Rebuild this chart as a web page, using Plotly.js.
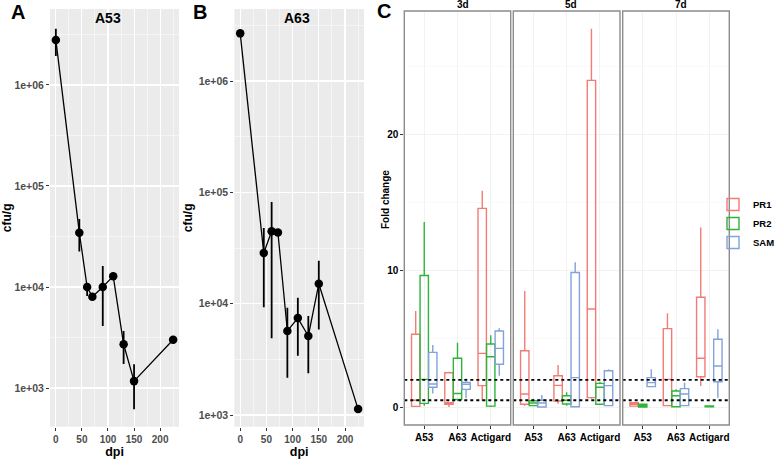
<!DOCTYPE html>
<html>
<head>
<meta charset="utf-8">
<script src="https://cdn.plot.ly/plotly-3.0.1.min.js"></script>
<style>html,body{margin:0;padding:0;background:#fff;}#chart{width:778px;height:459px;}</style>
</head>
<body>
<div id="chart"></div>
<script>
// ---------- Panel A (A53) ----------
const dpiA = [0, 45, 60, 70, 90, 110, 130, 150, 225];
const cfuA = [2790000, 34500, 10000, 8000, 10000, 12800, 2710, 1170, 3000];
const cfuA_hi = [3600000, 47000, 10800, 8000, 16100, 12800, 3660, 1720, 3000];
const cfuA_lo = [1940000, 22400, 8150, 8000, 4100, 12800, 1730, 615, 3000];

// ---------- Panel B (A63) ----------
const dpiB = [0, 45, 60, 72, 90, 110, 130, 150, 225];
const cfuB = [2680000, 28500, 44700, 43500, 5690, 7430, 5130, 15100, 1130];
const cfuB_hi = [2680000, 47900, 82000, 43500, 9200, 11300, 7770, 24300, 1130];
const cfuB_lo = [2680000, 9300, 4900, 43500, 2160, 3410, 2370, 5870, 1130];

const logTicks = [1e3, 1e4, 1e5, 1e6];
const logTickText = ['1e+03', '1e+04', '1e+05', '1e+06'];
const dpiTicks = [0, 50, 100, 150, 200];

// ---------- Panel C (fold change boxplots) ----------
const cats = ['A53', 'A63', 'Actigard'];
const facets = ['3d', '5d', '7d'];
const genes = ['PR1', 'PR2', 'SAM'];
const thresholds = [0.5, 2];
const foldTicks = [0, 10, 20];

// 3d
const PR1_3d_q1 = [0.05, 0.2, 1.57], PR1_3d_med = [0.5, 0.32, 3.94], PR1_3d_q3 = [5.35, 2.52, 14.6], PR1_3d_lo = [0, 0, 0.46], PR1_3d_hi = [7.05, 2.6, 15.9];
const PR2_3d_q1 = [0.27, 0.56, 0.07], PR2_3d_med = [2.03, 1.0, 3.7], PR2_3d_q3 = [9.66, 3.58, 4.63], PR2_3d_lo = [0.1, 0.45, 0], PR2_3d_hi = [13.6, 4.73, 5.27];
const SAM_3d_q1 = [1.45, 1.3, 3.14], SAM_3d_med = [1.69, 1.67, 4.31], SAM_3d_q3 = [4.02, 1.81, 5.59], SAM_3d_lo = [1.0, 0.64, 2.3], SAM_3d_hi = [4.56, 2.1, 5.78];
// 5d
const PR1_5d_q1 = [0.2, 0.44, 0.69], PR1_5d_med = [0.96, 1.59, 7.2], PR1_5d_q3 = [4.14, 2.3, 24.0], PR1_5d_lo = [0.1, 0.24, 0.6], PR1_5d_hi = [8.53, 3.09, 27.8];
const PR2_5d_q1 = [0.1, 0.22, 0.2], PR2_5d_med = [0.3, 0.5, 1.45], PR2_5d_q3 = [0.46, 0.83, 1.74], PR2_5d_lo = [0.05, 0.1, 0.15], PR2_5d_hi = [0.6, 1.08, 1.84];
const SAM_5d_q1 = [0.0, 0.02, 0.1], SAM_5d_med = [0.3, 2.16, 1.57], SAM_5d_q3 = [0.5, 9.88, 2.67], SAM_5d_lo = [0.0, 0.0, 0.05], SAM_5d_hi = [0.88, 10.64, 2.77];
// 7d
const PR1_7d_q1 = [0.07, 0.1, 2.23], PR1_7d_med = [0.2, 2.03, 3.58], PR1_7d_q3 = [0.32, 5.76, 8.07], PR1_7d_lo = [0.05, 0.05, 1.54], PR1_7d_hi = [0.35, 6.89, 13.2];
const PR2_7d_q1 = [0.0, 0.02, 0.02], PR2_7d_med = [0.1, 0.83, 0.05], PR2_7d_q3 = [0.2, 1.18, 0.08], PR2_7d_lo = [0, 0, 0], PR2_7d_hi = [0.22, 1.3, 0.1];
const SAM_7d_q1 = [1.5, 0.1, 1.86], SAM_7d_med = [1.79, 0.96, 3.01], SAM_7d_q3 = [2.16, 1.35, 4.98], SAM_7d_lo = [1.5, 0.05, 0.69], SAM_7d_hi = [2.77, 1.79, 5.71];

const stats = {
  '3d': {PR1: [PR1_3d_q1, PR1_3d_med, PR1_3d_q3, PR1_3d_lo, PR1_3d_hi], PR2: [PR2_3d_q1, PR2_3d_med, PR2_3d_q3, PR2_3d_lo, PR2_3d_hi], SAM: [SAM_3d_q1, SAM_3d_med, SAM_3d_q3, SAM_3d_lo, SAM_3d_hi]},
  '5d': {PR1: [PR1_5d_q1, PR1_5d_med, PR1_5d_q3, PR1_5d_lo, PR1_5d_hi], PR2: [PR2_5d_q1, PR2_5d_med, PR2_5d_q3, PR2_5d_lo, PR2_5d_hi], SAM: [SAM_5d_q1, SAM_5d_med, SAM_5d_q3, SAM_5d_lo, SAM_5d_hi]},
  '7d': {PR1: [PR1_7d_q1, PR1_7d_med, PR1_7d_q3, PR1_7d_lo, PR1_7d_hi], PR2: [PR2_7d_q1, PR2_7d_med, PR2_7d_q3, PR2_7d_lo, PR2_7d_hi], SAM: [SAM_7d_q1, SAM_7d_med, SAM_7d_q3, SAM_7d_lo, SAM_7d_hi]}
};

// ---------- styling ----------
const FONT = 'Liberation Sans, Arial, Helvetica, sans-serif';
const geneColors = {PR1: '#F27B74', PR2: '#2DB539', SAM: '#82A2D9'};
const W = 778, H = 459;
const px = v => v / W;
const py = v => 1 - v / H;

const traces = [];
function errTrace(x, y, hi, lo, xa, ya) {
  return {
    type: 'scatter', mode: 'lines+markers', x: x, y: y, xaxis: xa, yaxis: ya,
    line: {color: '#000', width: 1.3},
    marker: {color: '#000', size: 8.5},
    error_y: {type: 'data', symmetric: false,
      array: hi.map((h, i) => h - y[i]), arrayminus: lo.map((l, i) => y[i] - l),
      color: '#000', thickness: 1.8, width: 0},
    showlegend: false, hoverinfo: 'x+y'
  };
}
traces.push(errTrace(dpiA, cfuA, cfuA_hi, cfuA_lo, 'x', 'y'));
traces.push(errTrace(dpiB, cfuB, cfuB_hi, cfuB_lo, 'x2', 'y2'));

const facetAxes = ['x3', 'x4', 'x5'];
facets.forEach((f, fi) => {
  genes.forEach(g => {
    const s = stats[f][g];
    traces.push({
      type: 'box', name: g, x: cats,
      q1: s[0], median: s[1], q3: s[2], lowerfence: s[3], upperfence: s[4],
      xaxis: facetAxes[fi], yaxis: 'y3',
      line: {color: geneColors[g], width: 1.4},
      fillcolor: 'rgba(255,255,255,0)',
      whiskerwidth: 0, boxpoints: false,
      alignmentgroup: f, offsetgroup: g,
      legendgroup: g, showlegend: fi === 0
    });
  });
});

const tickFontC = {family: FONT, size: 10, color: '#000', weight: 'bold'};
const yDomAB = [py(426.7), py(9)];
const yDomC = [py(425), py(11)];

function dpiAxis(dom, anchor) {
  return {
    domain: dom, anchor: anchor, range: [-11.25, 236.25], tickmode: 'array', tickvals: dpiTicks,
    ticks: 'outside', ticklen: 3, tickcolor: '#333', tickwidth: 1,
    tickfont: {family: FONT, size: 10, color: '#4D4D4D', weight: 'bold'},
    showgrid: true, gridcolor: '#FFFFFF', gridwidth: 1.1,
    minor: {dtick: 25, tick0: 0, showgrid: true, gridcolor: '#FFFFFF', gridwidth: 0.5, ticks: ''},
    zeroline: false, showline: false, automargin: false,
    title: {text: 'dpi', font: {family: FONT, size: 12.5, color: '#000', weight: 'bold'}, standoff: 1}
  };
}
function cfuAxis(dom, anchor, rng) {
  return {
    domain: dom, anchor: anchor, type: 'log', range: rng, tickmode: 'array',
    tickvals: logTicks, ticktext: logTickText,
    ticks: 'outside', ticklen: 3, tickcolor: '#333', tickwidth: 1,
    tickfont: {family: FONT, size: 10.5, color: '#4D4D4D', weight: 'bold'},
    showgrid: true, gridcolor: '#FFFFFF', gridwidth: 1.1,
    minor: {tickmode: 'array', tickvals: logTicks.concat([1e7]).map(v => v / Math.sqrt(10)), showgrid: true, gridcolor: '#FFFFFF', gridwidth: 0.5, ticks: ''},
    zeroline: false, showline: false, automargin: false,
    title: {text: 'cfu/g', font: {family: FONT, size: 12, color: '#000', weight: 'bold'}, standoff: 3}
  };
}
function facetAxis(dom) {
  return {
    domain: dom, anchor: 'y3', type: 'category', categoryorder: 'array', categoryarray: cats,
    range: [-0.6, 2.6], ticks: 'outside', ticklen: 3, tickcolor: '#333', tickwidth: 1,
    tickfont: tickFontC, showgrid: true, gridcolor: '#EFEFEF', gridwidth: 0.8,
    zeroline: false, showline: false, automargin: false
  };
}

const shapes = [
  {type: 'rect', xref: 'x domain', yref: 'y domain', x0: 0, x1: 1, y0: 0, y1: 1, fillcolor: '#EBEBEB', line: {width: 0}, layer: 'below'},
  {type: 'rect', xref: 'x2 domain', yref: 'y2 domain', x0: 0, x1: 1, y0: 0, y1: 1, fillcolor: '#EBEBEB', line: {width: 0}, layer: 'below'}
];
facetAxes.forEach(xa => {
  thresholds.forEach(t => {
    shapes.push({type: 'line', xref: xa + ' domain', yref: 'y3', x0: 0, x1: 1, y0: t, y1: t,
      line: {color: '#000', width: 1.8, dash: 'dot'}, layer: 'above'});
  });
  shapes.push({type: 'rect', xref: xa + ' domain', yref: 'y3 domain', x0: 0, x1: 1, y0: 0, y1: 1,
    fillcolor: 'rgba(0,0,0,0)', line: {color: '#8C8C8C', width: 1.4}, layer: 'above'});
});

function ann(text, x, y, size, extra) {
  return Object.assign({text: text, x: px(x), y: py(y), xref: 'paper', yref: 'paper', showarrow: false,
    xanchor: 'center', yanchor: 'middle', font: {family: FONT, size: size, color: '#000', weight: 'bold'}}, extra || {});
}
const annotations = [
  ann('A', 18, 12, 20), ann('B', 200, 12, 20), ann('C', 384, 11, 20),
  ann('A53', 108, 18, 14), ann('A63', 297, 18, 14),
  ann(facets[0], 463, 4, 10), ann(facets[1], 571, 4, 10), ann(facets[2], 681, 4, 10),
  ann('Fold change', 385, 200, 10, {textangle: -90})
];

const layout = {
  width: W, height: H, margin: {l: 0, r: 0, t: 0, b: 0, autoexpand: false},
  paper_bgcolor: '#FFFFFF', plot_bgcolor: '#FFFFFF',
  font: {family: FONT, color: '#000'},
  boxmode: 'group', boxgap: 0.23, boxgroupgap: 0.02,
  xaxis: dpiAxis([px(50), px(179)], 'y'),
  yaxis: cfuAxis(yDomAB, 'x', [2.617, 6.752]),
  xaxis2: dpiAxis([px(234.3), px(364)], 'y2'),
  yaxis2: cfuAxis(yDomAB, 'x2', [2.895, 6.647]),
  xaxis3: facetAxis([px(404.3), px(510.7)]),
  xaxis4: facetAxis([px(513.3), px(620)]),
  xaxis5: facetAxis([px(622.7), px(729.3)]),
  yaxis3: {
    domain: yDomC, anchor: 'x3', range: [-1.32, 29.1], tickmode: 'array', tickvals: foldTicks,
    ticks: 'outside', ticklen: 3, tickcolor: '#333', tickwidth: 1, tickfont: tickFontC,
    showgrid: true, gridcolor: '#EFEFEF', gridwidth: 0.8,
    minor: {tickmode: 'array', tickvals: foldTicks.map(v => v + 5), showgrid: true, gridcolor: '#F6F6F6', gridwidth: 0.5, ticks: ''},
    zeroline: false, showline: false, automargin: false
  },
  showlegend: true,
  legend: {x: px(713), y: py(190), xanchor: 'left', yanchor: 'top', bgcolor: 'rgba(0,0,0,0)',
    font: {family: FONT, size: 9.5, color: '#000', weight: 'bold'}, itemwidth: 30, tracegroupgap: 0},
  shapes: shapes, annotations: annotations
};

Plotly.newPlot('chart', traces, layout, {displayModeBar: false, staticPlot: true});
</script>
</body>
</html>
